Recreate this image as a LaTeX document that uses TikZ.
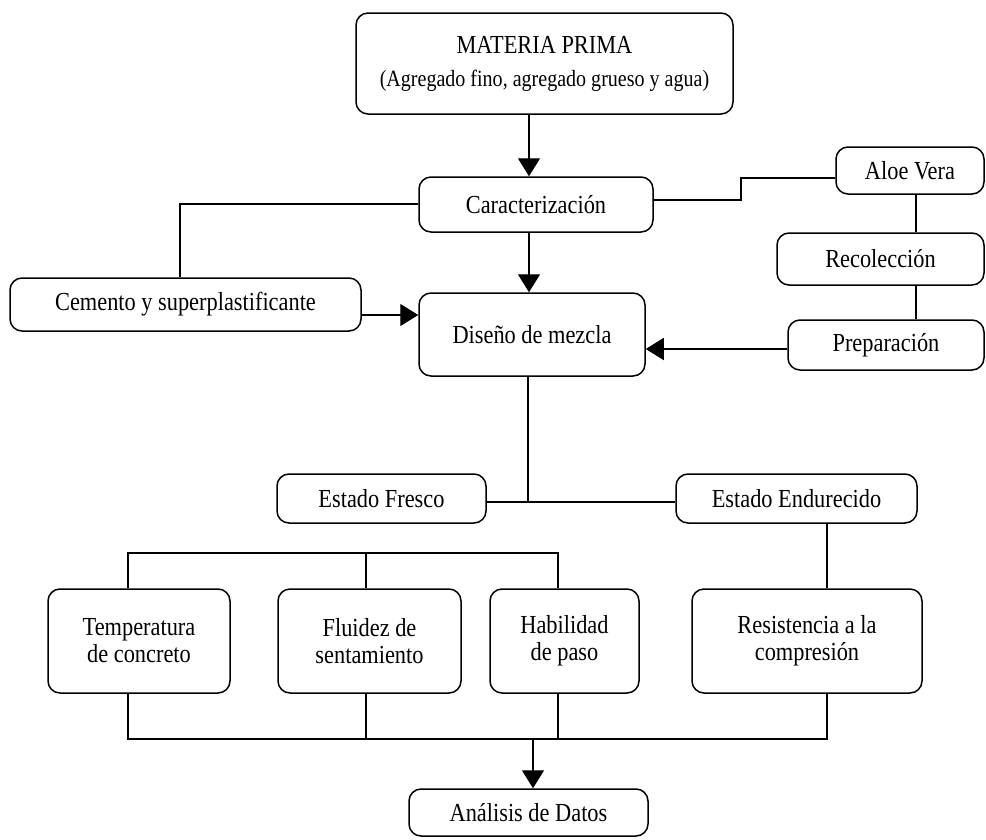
\documentclass[tikz,border=0pt]{standalone}
\usepackage{fontspec}
\setmainfont[FakeStretch=0.86]{Liberation Serif}
\usetikzlibrary{arrows.meta}
\begin{document}
\begin{tikzpicture}[x=1pt,y=-1pt,
  box/.style={draw,line width=1.5pt,rounded corners=12pt,inner sep=0pt,align=center,
    font=\fontsize{26}{27}\selectfont},
  ln/.style={line width=1.4pt},
  arr/.style={line width=1.4pt,-{Triangle[width=22pt,length=18pt]}}]
\useasboundingbox (0,0) rectangle (986,839);
% boxes
\node[box,minimum width=377pt,minimum height=101pt] (mp) at (544.5,63.5)
  {MATERIA PRIMA\\[6pt]{\fontsize{23.3}{27}\selectfont (Agregado fino, agregado grueso y agua)}};
\node[box,minimum width=234pt,minimum height=55pt] (car) at (536,204.5) {Caracterización};
\node[box,minimum width=148pt,minimum height=47pt] (aloe) at (910,170.5) {Aloe Vera};
\node[box,minimum width=207pt,minimum height=52pt] (rec) at (880.5,259) {Recolección};
\node[box,minimum width=196pt,minimum height=50pt] (prep) at (886,345) {Preparación};
\node[box,minimum width=351pt,minimum height=53pt] (cem) at (185.5,304.5) {Cemento y superplastificante};
\node[box,minimum width=226pt,minimum height=83pt] (dis) at (532,334.5) {Diseño de mezcla};
\node[box,minimum width=209pt,minimum height=49pt] (fre) at (381.5,498.5) {Estado Fresco};
\node[box,minimum width=241pt,minimum height=49pt] (end) at (796.5,498.5) {Estado Endurecido};
\node[box,minimum width=182pt,minimum height=104pt] (tem) at (139,641) {Temperatura\\de concreto};
\node[box,minimum width=183pt,minimum height=104pt] (flu) at (369.5,641) {Fluidez de\\sentamiento};
\node[box,minimum width=149pt,minimum height=104pt] (hab) at (564.5,641) {Habilidad\\de paso};
\node[box,minimum width=230pt,minimum height=104pt] (res) at (807,641) {Resistencia a la\\compresión};
\node[box,minimum width=239pt,minimum height=47pt] (ana) at (528.5,812.5) {Análisis de Datos};
% helper coordinates
\coordinate (ax) at (529,0);
\coordinate (cx) at (180,204);
\coordinate (sx) at (741,200);
\coordinate (vx) at (916,0);
\coordinate (dx) at (528,0);
\coordinate (t1) at (128,553);
\coordinate (t2) at (558,553);
\coordinate (b1) at (128,739);
\coordinate (b2) at (827,739);
\coordinate (bx) at (533,739);
% connectors
\draw[arr] (mp.south -| ax) -- (car.north -| ax);
\draw[arr] (car.south -| ax) -- (dis.north -| ax);
\draw[ln] (car.west |- cx) -- (cx) -- (cem.north -| cx);
\draw[ln] (car.east |- sx) -- (sx) -- (741,178) -- (aloe.west |- 0,178);
\draw[ln] (aloe.south -| vx) -- (rec.north -| vx);
\draw[ln] (rec.south -| vx) -- (prep.north -| vx);
\draw[arr] (prep.west |- 0,349) -- (dis.east |- 0,349);
\draw[arr] (cem.east |- 0,315) -- (dis.west |- 0,315);
\draw[ln] (dis.south -| dx) -- (dx |- 0,502);
\draw[ln] (fre.east |- 0,502) -- (end.west |- 0,502);
\draw[ln] (end.south -| b2) -- (res.north -| b2);
\draw[ln] (tem.north -| t1) -- (t1) -- (t2) -- (hab.north -| t2);
\draw[ln] (366,553) -- (flu.north -| 366,0);
\draw[ln] (tem.south -| b1) -- (b1) -- (b2) -- (res.south -| b2);
\draw[ln] (flu.south -| 366,0) -- (366,739);
\draw[ln] (hab.south -| t2) -- (558,739);
\draw[arr] (bx) -- (ana.north -| bx);
\end{tikzpicture}
\end{document}
